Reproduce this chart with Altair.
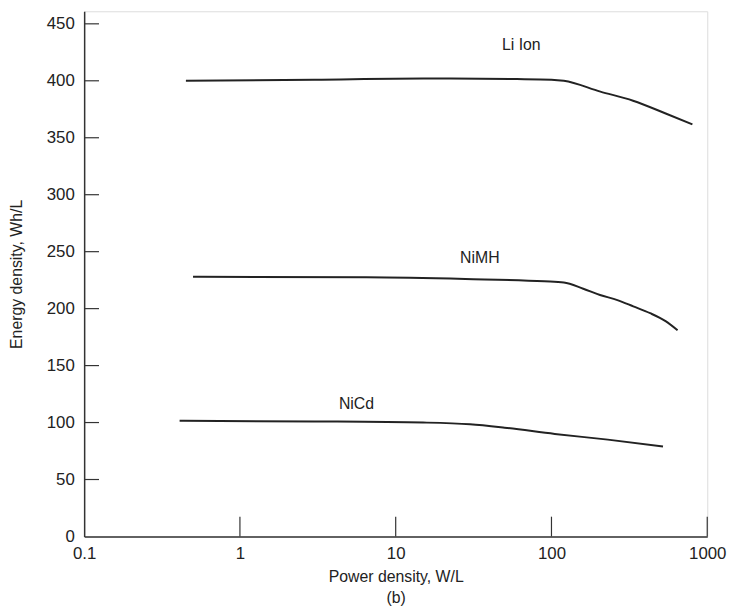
import altair as alt
import pandas as pd

# Data
li_x = [0.45, 3, 15, 60, 100, 120, 206, 334, 541, 803]
li_y = [400, 401, 402, 401.5, 401, 400, 390.5, 382.5, 371.3, 361.7]
nimh_x = [0.5, 6.5, 28, 90, 120, 160, 205, 265, 335, 430, 540, 645]
nimh_y = [228, 227.5, 226, 224, 223, 217.5, 212, 207.5, 202, 196, 189, 181]
nicd_x = [0.41, 3, 15, 30, 50, 105, 230, 520]
nicd_y = [101.5, 101, 100, 98.5, 95.5, 90, 85, 79]

label_text = ["Li Ion", "NiMH", "NiCd"]
label_x = [64, 34.7, 5.6]
label_y = [431, 244, 116.5]

x_ticks = [0.1, 1, 10, 100, 1000]
y_ticks = [0, 50, 100, 150, 200, 250, 300, 350, 400, 450]

rows = []
for name, xs, ys in [("Li Ion", li_x, li_y), ("NiMH", nimh_x, nimh_y), ("NiCd", nicd_x, nicd_y)]:
    for i, (a, b) in enumerate(zip(xs, ys)):
        rows.append({"series": name, "order": i, "x": a, "y": b})
df = pd.DataFrame(rows)
labels = pd.DataFrame({"text": label_text, "x": label_x, "y": label_y})
xt = pd.DataFrame({"x": x_ticks[1:]})
yt = pd.DataFrame({"y": y_ticks[1:]})

W, H = 630, 531
FONT = "Liberation Sans"
INK = "#222222"

xscale = alt.Scale(type="log", domain=[0.1, 1000], nice=False)
yscale = alt.Scale(domain=[0, 461], nice=False, zero=True)

label_expr = "datum.value < 1 ? '0.1' : format(datum.value, 'd')"

lines = alt.Chart(df).mark_line(color=INK, strokeWidth=2, interpolate="monotone").encode(
    x=alt.X("x:Q", scale=xscale,
            axis=alt.Axis(values=x_ticks, labelExpr=label_expr, ticks=False, grid=False,
                          title=["Power density, W/L", "(b)"], titleFontWeight="normal",
                          titleFont=FONT, titleFontSize=16, titleColor=INK, titlePadding=8,
                          titleLineHeight=21,
                          labelFont=FONT, labelFontSize=17, labelColor=INK, labelPadding=9,
                          domainColor="#333333", domainWidth=1.5, labelFlush=False)),
    y=alt.Y("y:Q", scale=yscale,
            axis=alt.Axis(values=y_ticks, ticks=False, grid=False,
                          title="Energy density, Wh/L", titleFontWeight="normal",
                          titleFont=FONT, titleFontSize=16, titleColor=INK, titlePadding=22,
                          labelFont=FONT, labelFontSize=17, labelColor=INK, labelPadding=10,
                          domainColor="#333333", domainWidth=1.5)),
    detail="series:N",
    order="order:Q",
)

xtick_rules = alt.Chart(xt).mark_rule(color="#333333", strokeWidth=1.2).encode(
    x=alt.X("x:Q", scale=xscale),
    y=alt.value(H),
    y2=alt.value(H - 20),
)

ytick_rules = alt.Chart(yt).mark_rule(color="#333333", strokeWidth=1.2).encode(
    y=alt.Y("y:Q", scale=yscale),
    x=alt.value(0),
    x2=alt.value(15),
)

texts = alt.Chart(labels).mark_text(font=FONT, fontSize=16, color=INK).encode(
    x=alt.X("x:Q", scale=xscale),
    y=alt.Y("y:Q", scale=yscale),
    text="text:N",
)

chart = alt.layer(lines, xtick_rules, ytick_rules, texts).properties(
    width=W, height=H,
    autosize=alt.AutoSizeParams(type="none"),
    padding={"left": 77, "top": 0, "right": 22, "bottom": 70},
).configure_view(stroke=None).configure(background="white")

chart.save("out.html", embed_options={"renderer": "svg", "actions": False})
